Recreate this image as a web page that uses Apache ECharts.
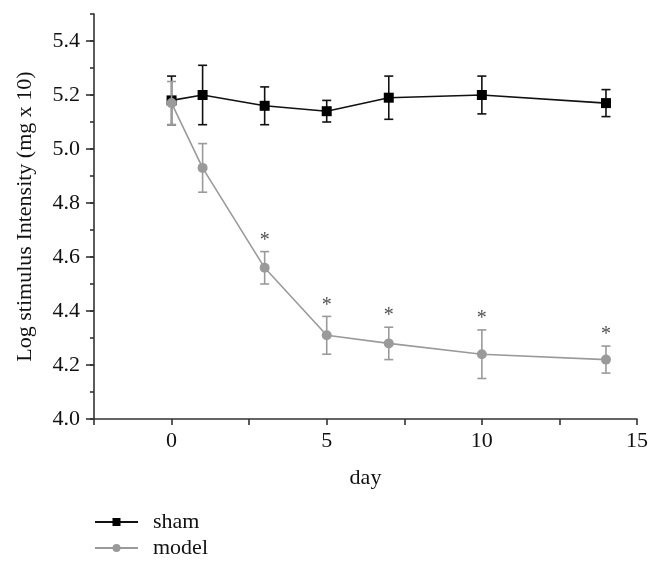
<!DOCTYPE html>
<html>
<head>
<meta charset="utf-8">
<script src="https://cdn.jsdelivr.net/npm/echarts@6/dist/echarts.min.js"></script>
<style>html,body{margin:0;padding:0;background:#fff}#c{width:660px;height:565px}</style>
</head>
<body>
<div id="c"></div>
<script>
var days = [0, 1, 3, 5, 7, 10, 14];
var shamMean = [5.18, 5.20, 5.16, 5.14, 5.19, 5.20, 5.17];
var shamErr  = [0.09, 0.11, 0.07, 0.04, 0.08, 0.07, 0.05];
var modelMean = [5.17, 4.93, 4.56, 4.31, 4.28, 4.24, 4.22];
var modelErr  = [0.08, 0.09, 0.06, 0.07, 0.06, 0.09, 0.05];
var starDays = [3, 5, 7, 10, 14];
var xTicks = [0, 5, 10, 15];
var yTicks = [4.0, 4.2, 4.4, 4.6, 4.8, 5.0, 5.2, 5.4];

var FONT = 'Liberation Serif';
var AX = '#333';
var FS = 22;

function pairs(m){ return days.map(function(d,i){ return [d, m[i]]; }); }
function errData(m, e){ return days.map(function(d,i){ return [d, m[i]-e[i], m[i]+e[i]]; }); }
function starData(){ return starDays.map(function(d){ var i = days.indexOf(d); return [d, modelMean[i]+modelErr[i]]; }); }

function errRender(color){
  return function(params, api){
    var x = api.value(0), lo = api.value(1), hi = api.value(2);
    var p1 = api.coord([x, hi]), p2 = api.coord([x, lo]);
    var w = 4.5, st = {stroke: color, lineWidth: 1.6};
    return {type:'group', children:[
      {type:'line', shape:{x1:p1[0], y1:p1[1], x2:p2[0], y2:p2[1]}, style: st},
      {type:'line', shape:{x1:p1[0]-w, y1:p1[1], x2:p1[0]+w, y2:p1[1]}, style: st},
      {type:'line', shape:{x1:p2[0]-w, y1:p2[1], x2:p2[0]+w, y2:p2[1]}, style: st}
    ]};
  };
}

var chart = echarts.init(document.getElementById('c'));
chart.setOption({
  animation: false,
  backgroundColor: '#fff',
  textStyle: {fontFamily: FONT},
  grid: {left: 94, right: 23, top: 14, bottom: 146, containLabel: false},
  legend: {
    orient: 'vertical', left: 89, top: 506, itemGap: 4,
    itemWidth: 43, itemHeight: 10,
    textStyle: {fontFamily: FONT, fontSize: FS, color: '#111', padding: [0, 0, 0, 10]},
    data: ['sham', 'model']
  },
  xAxis: {
    type: 'value', min: -2.5, max: 15, interval: 2.5,
    name: 'day', nameLocation: 'middle', nameGap: 48,
    nameTextStyle: {fontFamily: FONT, fontSize: FS, color: '#111'},
    axisLine: {onZero: false, lineStyle: {color: AX, width: 1.6}},
    axisTick: {show: true, length: 6, lineStyle: {color: AX, width: 1.6}},
    axisLabel: {fontFamily: FONT, fontSize: FS, color: '#111', margin: 11,
      formatter: function(v){ return xTicks.indexOf(v) >= 0 ? String(v) : ''; }},
    splitLine: {show: false}
  },
  yAxis: [{
    type: 'value', min: 4.0, max: 5.5, interval: 0.1,
    name: 'Log stimulus Intensity (mg x 10)', nameLocation: 'middle', nameGap: 58,
    nameTextStyle: {fontFamily: FONT, fontSize: FS, color: '#111'},
    axisLine: {onZero: false, lineStyle: {color: AX, width: 1.6}},
    axisTick: {show: true, length: 4, lineStyle: {color: AX, width: 1.6}},
    axisLabel: {show: false},
    splitLine: {show: false}
  }, {
    type: 'value', min: 4.0, max: 5.5, interval: 0.2, position: 'left',
    axisLine: {show: false, onZero: false},
    axisTick: {show: true, length: 8, lineStyle: {color: AX, width: 1.6}},
    axisLabel: {fontFamily: FONT, fontSize: FS, color: '#111', margin: 14, showMaxLabel: false,
      formatter: function(v){
        for (var i = 0; i < yTicks.length; i++) if (Math.abs(yTicks[i]-v) < 1e-6) return yTicks[i].toFixed(1);
        return '';
      }},
    splitLine: {show: false}
  }],
  series: [
    {type: 'custom', name: 'shamErr', renderItem: errRender('#111'), data: errData(shamMean, shamErr), z: 2, silent: true},
    {type: 'line', name: 'sham', data: pairs(shamMean), symbol: 'rect', symbolSize: 10,
      lineStyle: {color: '#111', width: 1.6}, itemStyle: {color: '#000'}, z: 3},
    {type: 'custom', name: 'modelErr', renderItem: errRender('#9a9a9a'), data: errData(modelMean, modelErr), z: 4, silent: true},
    {type: 'line', name: 'model', data: pairs(modelMean), symbol: 'circle', symbolSize: 10,
      lineStyle: {color: '#9a9a9a', width: 1.6}, itemStyle: {color: '#9a9a9a'}, z: 5},
    {type: 'scatter', name: 'stars', data: starData(), symbolSize: 0, z: 6, silent: true,
      label: {show: true, position: 'top', distance: 1, formatter: '*',
        fontFamily: FONT, fontSize: 20, color: '#222'}}
  ]
});
</script>
</body>
</html>
